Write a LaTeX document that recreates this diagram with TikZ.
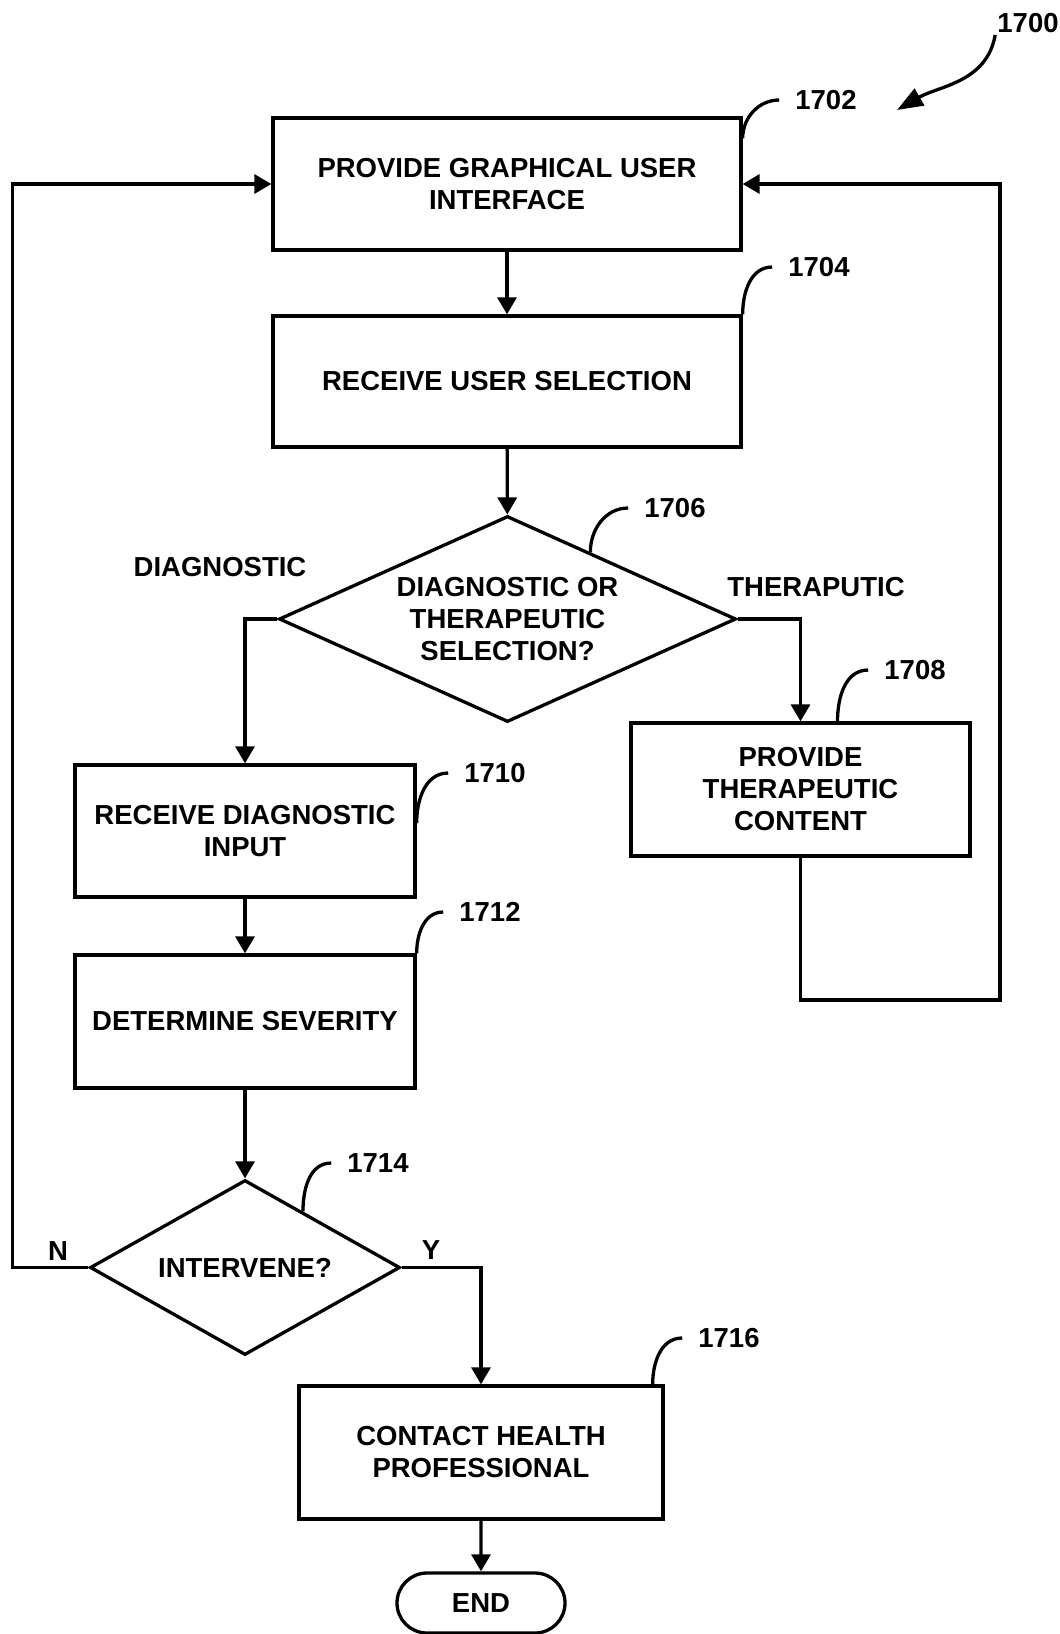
\documentclass[tikz,border=0pt]{standalone}
\usepackage{fontspec}
\setmainfont{Liberation Sans}
\usetikzlibrary{positioning}
\usetikzlibrary{shapes.geometric, shapes.misc}
\usetikzlibrary{arrows.meta, calc}

\begin{document}
\begin{tikzpicture}[x=1pt,y=1pt,
  every node/.style={font=\fontsize{27.5}{32}\selectfont\bfseries},
  stepbox/.style={rectangle,draw,line width=3.3pt,align=center,inner sep=0pt},
  choice/.style={diamond,draw,line width=3.3pt,align=center,inner sep=0pt,shape aspect=2},
  tag/.style={inner xsep=16pt,inner ysep=2pt},
  flow/.style={line width=3.3pt,-{Triangle[length=17pt,width=19pt]}},
  lead/.style={line width=3.3pt}]
\useasboundingbox (0,0) rectangle (1060,-1634);

\node[stepbox,minimum width=468pt,minimum height=132pt] (p1702) at (507,-184) {PROVIDE GRAPHICAL USER\\INTERFACE};
\node[stepbox,minimum width=468pt,minimum height=131pt] (p1704) at (507,-381.5) {RECEIVE USER SELECTION};
\node[choice,minimum width=457pt,minimum height=206pt] (d1706) at (507.5,-619) {DIAGNOSTIC OR\\THERAPEUTIC\\SELECTION?};
\node[stepbox,minimum width=339pt,minimum height=133pt] (p1708) at (800.5,-789.5) {PROVIDE\\THERAPEUTIC\\CONTENT};
\node[stepbox,minimum width=340pt,minimum height=132pt] (p1710) at (245,-831) {RECEIVE DIAGNOSTIC\\INPUT};
\node[stepbox,minimum width=340pt,minimum height=133pt] (p1712) at (245,-1021.5) {DETERMINE SEVERITY};
\node[choice,minimum width=310pt,minimum height=175pt] (d1714) at (245,-1267.5) {INTERVENE?};
\node[stepbox,minimum width=364pt,minimum height=133pt] (p1716) at (481,-1452.5) {CONTACT HEALTH\\PROFESSIONAL};
\node[rounded rectangle,draw,line width=3.3pt,minimum width=168pt,minimum height=60pt,inner sep=0pt] (done) at (481,-1603) {END};

\node (tdiag) at (220,-567) {DIAGNOSTIC};
\node (tther) at (816,-587) {THERAPUTIC};
\node (tno) at (58,-1251) {N};
\node (tyes) at (431,-1250) {Y};

\node[tag] (l1702) at (826,-100) {1702};
\node[tag] (l1704) at (819,-267) {1704};
\node[tag] (l1706) at (675,-508) {1706};
\node[tag] (l1708) at (915,-670) {1708};
\node[tag] (l1710) at (495,-773) {1710};
\node[tag] (l1712) at (490,-912) {1712};
\node[tag] (l1714) at (378,-1163) {1714};
\node[tag] (l1716) at (729,-1338) {1716};
\node[tag,inner xsep=2pt] (l1700) at (1028,-23) {1700};

\coordinate (t1700) at (897,-110);
\coordinate (lbus) at (12.5,-184);
\coordinate (rbus) at (1000,-1000);

\draw[flow] (p1702) -- (p1704);
\draw[flow] (p1704) -- (d1706);
\draw[flow] (d1706.west) -| (p1710.north);
\draw[flow] (d1706.east) -| (p1708.north);
\draw[flow] (p1710) -- (p1712);
\draw[flow] (p1712) -- (d1714);
\draw[flow] (d1714.east) -| (p1716.north);
\draw[flow] (p1716) -- (done);
\draw[flow] (d1714.west) -- (d1714.west -| lbus) |- (p1702.west);
\draw[flow] (p1708.south) |- (rbus) |- (p1702.east);
\draw[line width=3.3pt,-{Triangle[length=26pt,width=19pt]}] (l1700.south west) to[out=-100,in=30] (t1700);

\draw[lead] (l1702.west) to[out=180,in=90] ([yshift=-22pt]p1702.north east);
\draw[lead] (l1704.west) to[out=180,in=90] (p1704.north east);
\draw[lead] (l1706.west) to[out=180,in=90] ($(d1706.north)!0.36!(d1706.east)$);
\draw[lead] (l1708.west) to[out=180,in=90] ([xshift=37pt]p1708.north);
\draw[lead] (l1710.west) to[out=180,in=90] ([yshift=8pt]p1710.east);
\draw[lead] (l1712.west) to[out=180,in=90] (p1712.north east);
\draw[lead] (l1714.west) to[out=180,in=90] ($(d1714.north)!0.37!(d1714.east)$);
\draw[lead] (l1716.west) to[out=180,in=90] ([xshift=-12pt]p1716.north east);

\end{tikzpicture}
\end{document}
